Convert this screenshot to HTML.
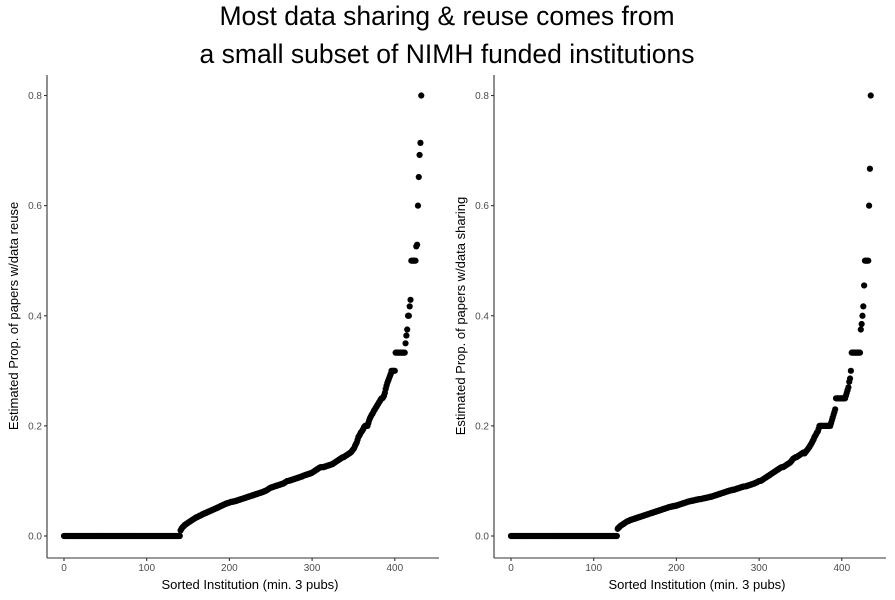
<!DOCTYPE html>
<html><head><meta charset="utf-8"><style>
body{margin:0;background:#fff;font-family:"Liberation Sans",sans-serif}
svg{display:block}
</style></head><body>
<svg id="chart" width="895" height="600" xmlns="http://www.w3.org/2000/svg">
<text x="447" y="25" text-anchor="middle" font-size="26.5" fill="#000">Most data sharing &amp; reuse comes from</text>
<text x="447" y="63" text-anchor="middle" font-size="26.5" fill="#000">a small subset of NIMH funded institutions</text>
</svg>
<script>
const xTicks = [0,100,200,300,400];
const yTicks = [0.0,0.2,0.4,0.6,0.8];
const yTickLabels = ["0.0","0.2","0.4","0.6","0.8"];
const reuseZeroCount = 141;
const reuseValues = [
0.010,0.013,0.015,0.017,0.018,0.020,0.021,0.022,0.023,0.024,
0.025,0.026,0.027,0.028,0.029,0.030,0.031,0.032,0.033,0.034,
0.034,0.035,0.036,0.037,0.037,0.038,0.039,0.040,0.040,0.041,
0.042,0.042,0.043,0.044,0.044,0.045,0.046,0.046,0.047,0.048,
0.048,0.049,0.050,0.050,0.051,0.052,0.052,0.053,0.054,0.055,
0.055,0.056,0.057,0.057,0.058,0.059,0.059,0.060,0.060,0.061,
0.061,0.062,0.062,0.062,0.063,0.063,0.063,0.064,0.064,0.065,
0.065,0.066,0.066,0.067,0.067,0.068,0.068,0.069,0.069,0.070,
0.070,0.071,0.071,0.072,0.072,0.073,0.073,0.074,0.074,0.075,
0.075,0.076,0.076,0.077,0.077,0.078,0.078,0.079,0.079,0.080,
0.080,0.081,0.082,0.082,0.083,0.084,0.085,0.086,0.087,0.088,
0.088,0.089,0.089,0.090,0.090,0.091,0.091,0.092,0.092,0.093,
0.093,0.094,0.094,0.095,0.095,0.096,0.097,0.098,0.099,0.100,
0.100,0.100,0.101,0.101,0.102,0.102,0.103,0.103,0.104,0.104,
0.105,0.105,0.106,0.106,0.107,0.107,0.108,0.108,0.109,0.110,
0.110,0.111,0.111,0.112,0.112,0.113,0.113,0.114,0.114,0.115,
0.116,0.117,0.118,0.119,0.120,0.121,0.122,0.123,0.124,0.125,
0.125,0.125,0.125,0.125,0.126,0.126,0.127,0.127,0.128,0.128,
0.129,0.129,0.130,0.130,0.131,0.132,0.133,0.134,0.135,0.136,
0.137,0.138,0.139,0.140,0.141,0.142,0.143,0.143,0.144,0.145,
0.146,0.147,0.148,0.149,0.150,0.151,0.152,0.154,0.156,0.158,
0.160,0.164,0.167,0.170,
0.175,0.180,0.182,0.185,0.188,0.190,0.192,0.195,0.198,0.200,
0.200,0.200,0.200,0.205,0.210,0.214,0.217,0.220,0.222,0.225,
0.228,0.230,0.233,0.235,0.238,0.240,0.243,0.245,0.248,0.250,
0.250,0.252,0.255,0.260,0.267,0.273,0.278,0.282,0.286,0.290,
0.294,0.300,0.300,0.300,0.300,0.300,0.333,0.333,0.333,0.333,
0.333,0.333,0.333,0.333,0.333,0.333,0.333,0.333,0.350,0.364,
0.375,0.400,0.400,0.417,0.429,0.500,0.500,0.500,0.500,0.500,
0.500,0.526,0.529,0.600,0.652,0.692,0.714,0.800];
const shareZeroCount = 129;
const shareValues = [
0.013,0.015,0.016,0.018,0.019,0.020,0.021,0.022,0.023,0.024,
0.025,0.026,0.027,0.027,0.028,0.029,0.029,0.030,0.030,0.031,
0.031,0.032,0.032,0.033,0.033,0.034,0.034,0.035,0.035,0.036,
0.036,0.037,0.037,0.038,0.038,0.039,0.039,0.040,0.040,0.041,
0.041,0.042,0.042,0.043,0.043,0.044,0.044,0.045,0.045,0.046,
0.046,0.047,0.047,0.048,0.048,0.049,0.049,0.050,0.050,0.051,
0.051,0.052,0.052,0.053,0.053,0.053,0.054,0.054,0.054,0.055,
0.055,0.055,0.056,0.056,0.057,0.057,0.058,0.058,0.059,0.059,
0.060,0.060,0.061,0.061,0.062,0.062,0.063,0.063,0.063,0.064,
0.064,0.064,0.065,0.065,0.065,0.066,0.066,0.066,0.067,0.067,
0.067,0.067,0.068,0.068,0.068,0.069,0.069,0.069,0.070,0.070,
0.070,0.071,0.071,0.071,0.072,0.072,0.073,0.073,0.074,0.074,
0.075,0.075,0.076,0.076,0.077,0.077,0.078,0.078,0.079,0.079,
0.080,0.080,0.081,0.081,0.082,0.082,0.083,0.083,0.083,0.084,
0.084,0.084,0.085,0.085,0.086,0.086,0.087,0.087,0.088,0.088,
0.089,0.089,0.090,0.090,0.090,0.090,0.091,0.091,0.092,0.092,0.093,0.093,
0.094,0.094,0.095,0.095,0.096,0.097,0.097,0.098,0.099,0.100,
0.100,0.100,0.101,0.102,0.103,0.104,0.105,0.106,0.107,0.108,
0.109,0.110,0.111,0.112,0.113,0.114,0.115,0.116,0.117,0.118,
0.119,0.120,0.121,0.122,0.123,0.124,0.125,0.125,0.125,0.126,
0.127,0.128,0.129,0.130,0.131,0.132,0.133,0.134,0.136,0.138,
0.140,0.141,0.142,0.143,0.143,0.144,0.145,0.146,0.147,0.148,
0.149,0.150,0.151,0.152,
0.150,0.152,0.154,0.156,0.158,0.160,0.162,0.165,0.167,0.170,
0.173,0.176,0.180,0.182,0.185,0.188,0.190,0.195,0.200,0.200,
0.200,0.200,0.200,0.200,0.200,0.200,0.200,0.200,0.200,0.200,0.200,0.200,0.205,0.210,
0.215,0.220,0.225,0.230,0.250,0.250,0.250,0.250,0.250,0.250,0.250,0.250,0.250,0.250,
0.250,0.250,0.255,0.260,0.265,0.270,0.280,0.286,0.300,0.333,
0.333,0.333,0.333,0.333,0.333,0.333,0.333,0.333,0.333,0.333,
0.375,0.385,0.400,0.417,0.455,0.500,0.500,0.500,0.500,0.500,
0.600,0.667,0.800];

const NS = "http://www.w3.org/2000/svg";
const svg = document.getElementById('chart');
function mk(tag, attrs){const e=document.createElementNS(NS,tag);for(const k in attrs)e.setAttribute(k,attrs[k]);svg.appendChild(e);return e;}

function panel(x0, zeroCount, values, yTitle, prefix){
  const xScale = v => x0 + 17 + v * 0.827;
  const yScale = v => 536 - v * 550.6;
  const axisX = x0, axisY = 558;
  const all = [];
  for (let i=0;i<zeroCount;i++) all.push(0);
  values.forEach(v=>all.push(v));
  all.forEach((v,i)=>{
    const c = mk('circle',{cx:xScale(i),cy:yScale(v),r:3.1,fill:'#000'});
    
    
  });
  const ya = mk('line',{x1:axisX,y1:75,x2:axisX,y2:axisY,stroke:'#333','stroke-width':1.1});
  
  
  const xa = mk('line',{x1:axisX,y1:axisY,x2:axisX+392,y2:axisY,stroke:'#333','stroke-width':1.1});
  
  
  yTicks.forEach((t,i)=>{
    const y=yScale(t);
    mk('line',{x1:axisX-3,y1:y,x2:axisX,y2:y,stroke:'#333','stroke-width':1.1});
    const tx = mk('text',{x:axisX-5,y:y+3.5,'text-anchor':'end','font-size':10,fill:'#4d4d4d'});
    tx.textContent = yTickLabels[i];
    
    
  });
  xTicks.forEach(t=>{
    const x=xScale(t);
    mk('line',{x1:x,y1:axisY,x2:x,y2:axisY+3,stroke:'#333','stroke-width':1.1});
    const tx = mk('text',{x:x,y:axisY+13,'text-anchor':'middle','font-size':10,fill:'#4d4d4d'});
    tx.textContent = String(t);
    
    
  });
  const xt = mk('text',{x:axisX+203,y:589,'text-anchor':'middle','font-size':13,fill:'#000'});
  xt.textContent = 'Sorted Institution (min. 3 pubs)';
  
  
  const yt = mk('text',{x:0,y:0,'text-anchor':'middle','font-size':13,fill:'#000',transform:`translate(${axisX-29},316) rotate(-90)`});
  yt.textContent = yTitle;
  
  
}
panel(47, reuseZeroCount, reuseValues, 'Estimated Prop. of papers w/data reuse', 'reuse');
panel(494, shareZeroCount, shareValues, 'Estimated Prop. of papers w/data sharing', 'sharing');
</script>
</body></html>
